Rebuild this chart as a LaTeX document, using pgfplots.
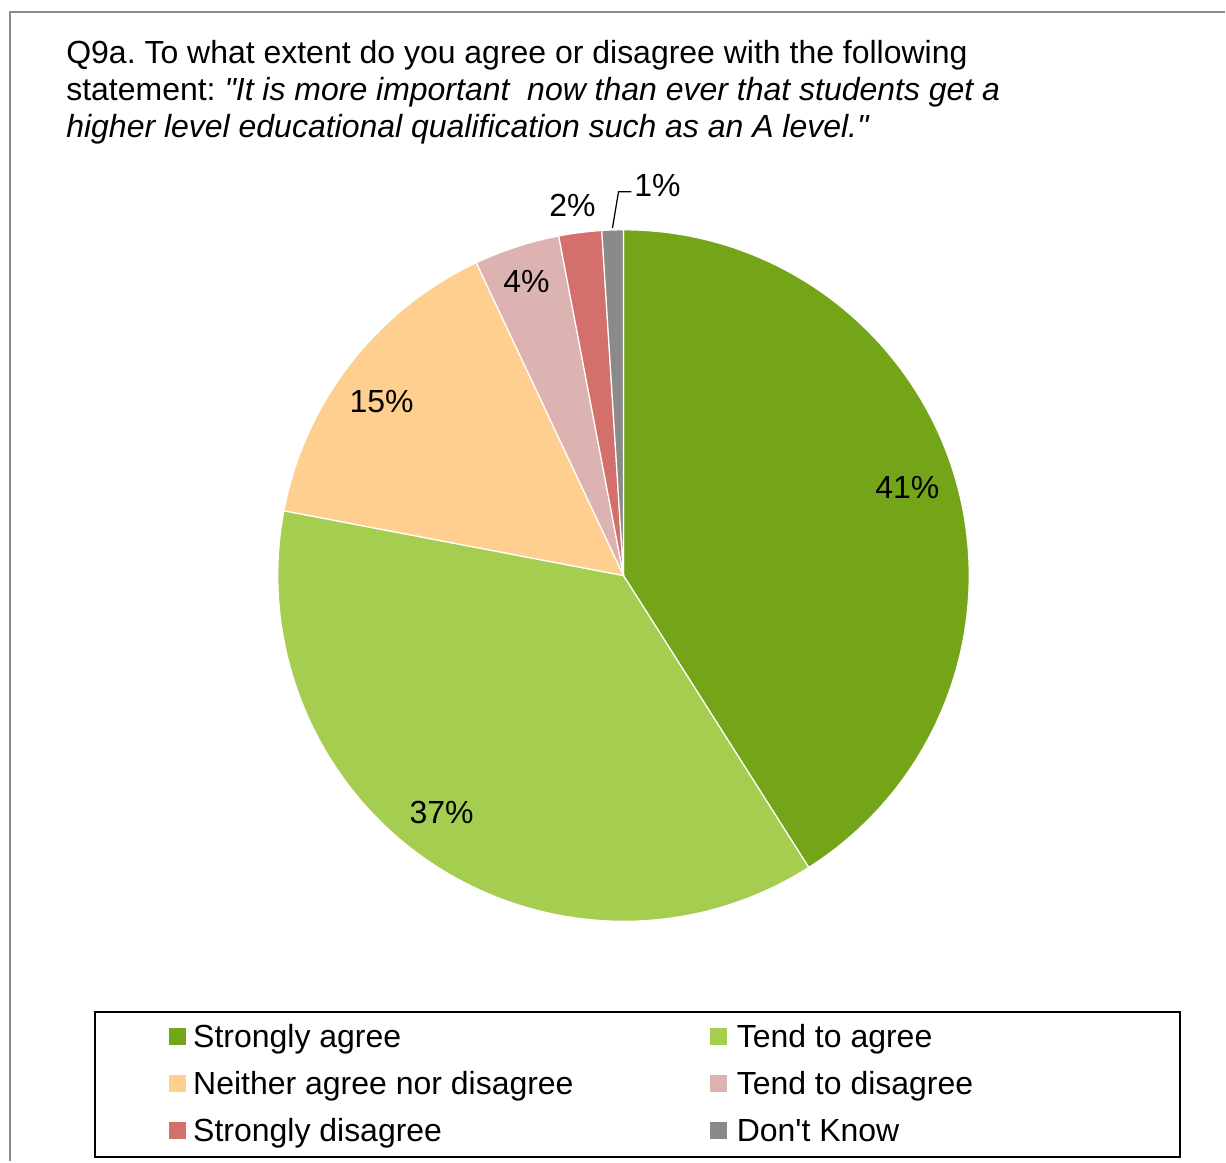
\documentclass[border=0pt]{standalone}
\usepackage{pgfplots}
\pgfplotsset{compat=1.18}
\usepackage{pgfplotstable}
\usepackage{fontspec}
\setmainfont{Liberation Sans}
\frenchspacing
\definecolor{cSA}{HTML}{74A518}
\definecolor{cTA}{HTML}{A5CD50}
\definecolor{cNE}{HTML}{FFCF8F}
\definecolor{cTD}{HTML}{DDB3B2}
\definecolor{cSD}{HTML}{D4706B}
\definecolor{cDK}{HTML}{8A8A8A}
\definecolor{frame}{HTML}{8C8C8C}
\pgfplotstableread{
value col
41 cSA
37 cTA
15 cNE
4 cTD
2 cSD
1 cDK
}\piedata
\begin{document}
\begin{tikzpicture}[every node/.style={font=\fontsize{16pt}{19pt}\selectfont}]
\begin{axis}[
  width=613pt, height=581pt, scale only axis,
  xmin=0, xmax=1226, ymin=0, ymax=1162, y dir=reverse,
  hide axis, clip=false,
]
\path (axis cs:0,0) (axis cs:1226,1162);
\def\cumv{0}
\pgfplotsforeachungrouped \i in {0,...,5}{%
  \pgfplotstablegetelem{\i}{value}\of\piedata \let\sliceval\pgfplotsretval
  \pgfplotstablegetelem{\i}{col}\of\piedata \let\slicecol\pgfplotsretval
  \pgfmathsetmacro\angA{90-3.6*\cumv}%
  \pgfmathsetmacro\cumv{\cumv+\sliceval}%
  \pgfmathsetmacro\angB{90-3.6*\cumv}%
  \edef\tmp{\noexpand\fill[fill=\slicecol, draw=white, line width=0.6pt] (axis cs:624,576) -- ++(\angA:173pt) arc[start angle=\angA, end angle=\angB, radius=173pt] -- cycle;}%
  \tmp
}
% frame
\draw[frame, line width=1pt] (axis cs:10,1162) -- (axis cs:10,12) -- (axis cs:1226,12);
% title
\node[anchor=base west, inner sep=0pt] at (axis cs:66,64) {Q9a. To what extent do you agree or disagree with the following};
\node[anchor=base west, inner sep=0pt] at (axis cs:66,101) {statement: \textit{\textquotedbl It is more important\ \ now than ever that students get a}};
\node[anchor=base west, inner sep=0pt] at (axis cs:66,138) {\textit{higher level educational qualification such as an A level.\textquotedbl}};
% labels
\node at (axis cs:908,488) {41\%};
\node at (axis cs:442,813) {37\%};
\node at (axis cs:382,402) {15\%};
\node at (axis cs:527,282) {4\%};
\node at (axis cs:573,206) {2\%};
\node at (axis cs:658,186) {1\%};
\draw[black, line width=0.6pt] (axis cs:613,228) -- (axis cs:619,192) -- (axis cs:632,192);
% legend
\draw[black, line width=0.8pt] (axis cs:95,1013) rectangle (axis cs:1181,1158);
\fill[cSA] (axis cs:169,1029) rectangle (axis cs:186,1046);
\fill[cNE] (axis cs:169,1076) rectangle (axis cs:186,1093);
\fill[cSD] (axis cs:169,1123) rectangle (axis cs:186,1140);
\fill[cTA] (axis cs:711,1029) rectangle (axis cs:728,1046);
\fill[cTD] (axis cs:711,1076) rectangle (axis cs:728,1093);
\fill[cDK] (axis cs:711,1123) rectangle (axis cs:728,1140);
\node[anchor=base west, inner sep=0pt] at (axis cs:193,1048) {Strongly agree};
\node[anchor=base west, inner sep=0pt] at (axis cs:193,1095) {Neither agree nor disagree};
\node[anchor=base west, inner sep=0pt] at (axis cs:193,1142) {Strongly disagree};
\node[anchor=base west, inner sep=0pt] at (axis cs:737,1048) {Tend to agree};
\node[anchor=base west, inner sep=0pt] at (axis cs:737,1095) {Tend to disagree};
\node[anchor=base west, inner sep=0pt] at (axis cs:737,1142) {Don\textquotesingle t Know};
\end{axis}
\end{tikzpicture}
\end{document}
